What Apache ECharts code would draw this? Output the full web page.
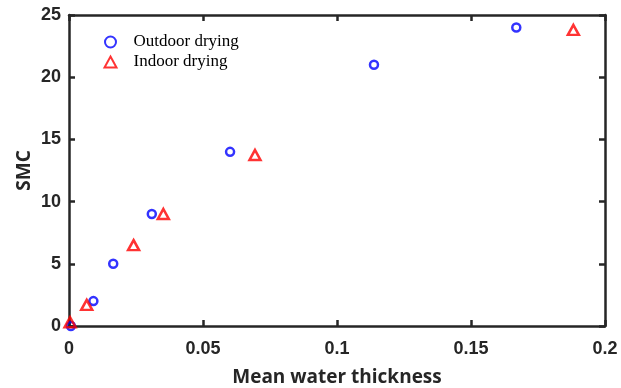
<!DOCTYPE html>
<html>
<head>
<meta charset="utf-8">
<script src="https://cdn.jsdelivr.net/npm/echarts@6/dist/echarts.min.js"></script>
<style>
  html, body { margin: 0; padding: 0; background: #fff; }
  #main { width: 621px; height: 388px; }
</style>
</head>
<body>
<div id="main"></div>
<script>
// 数据
var outdoorX = [0.0007, 0.0091, 0.0165, 0.0309, 0.0601, 0.1138, 0.1669];
var outdoorY = [0, 2.0, 5.0, 9.0, 14.0, 21.0, 24.0];
var indoorX = [0.0004, 0.0066, 0.0241, 0.0352, 0.0694, 0.1882];
var indoorY = [0.3, 1.7, 6.5, 9.0, 13.75, 23.8];
var seriesNames = ['Outdoor drying', 'Indoor drying'];

function pairs(xs, ys) {
    var out = [];
    for (var i = 0; i < xs.length; i++) {
        out.push([xs[i], ys[i]]);
    }
    return out;
}

var axisColor = '#262626';
var tickFont = { fontFamily: 'Liberation Sans', fontWeight: 'bold', fontSize: 18, color: axisColor };
var lineStyle = { color: axisColor, width: 2.5 };
var nameFont = { fontFamily: 'Open Sans', fontWeight: 'bold', fontSize: 19, color: axisColor };

var myChart = echarts.init(document.getElementById('main'));
myChart.setOption({
    animation: false,
    grid: { left: 69, right: 16, top: 15, bottom: 62, containLabel: false, outerBoundsMode: 'none' },
    legend: {
        orient: 'vertical',
        left: 97,
        top: 27,
        itemWidth: 12,
        itemHeight: 11,
        itemGap: 0,
        data: [
            { name: seriesNames[0], icon: 'circle' },
            { name: seriesNames[1], icon: 'triangle' }
        ],
        textStyle: { fontFamily: 'Liberation Serif', fontSize: 17, lineHeight: 20, color: '#000', padding: [0, 0, 0, 12] }
    },
    xAxis: [{
        type: 'value',
        min: 0, max: 0.2, interval: 0.05,
        name: 'Mean water thickness',
        nameLocation: 'middle',
        nameGap: 42,
        nameMoveOverlap: false,
        nameTextStyle: nameFont,
        axisLine: { onZero: false, lineStyle: lineStyle },
        axisTick: { inside: true, length: 6, lineStyle: lineStyle },
        axisLabel: Object.assign({ margin: 14 }, tickFont),
        splitLine: { show: false }
    }, {
        type: 'value', position: 'top',
        min: 0, max: 0.2, interval: 0.05,
        axisLine: { show: true, onZero: false, lineStyle: lineStyle },
        axisTick: { show: true, inside: true, length: 6, lineStyle: lineStyle },
        axisLabel: { show: false },
        splitLine: { show: false }
    }],
    yAxis: [{
        type: 'value',
        min: 0, max: 25, interval: 5,
        axisLine: { show: true, onZero: false, lineStyle: lineStyle },
        axisTick: { show: true, inside: true, length: 6, lineStyle: lineStyle },
        axisLabel: Object.assign({ margin: 8 }, tickFont),
        splitLine: { show: false }
    }, {
        type: 'value', position: 'right',
        min: 0, max: 25, interval: 5,
        axisLine: { show: true, onZero: false, lineStyle: lineStyle },
        axisTick: { show: true, inside: true, length: 6, lineStyle: lineStyle },
        axisLabel: { show: false },
        splitLine: { show: false }
    }, {
        // name-only axis so the title sits at a fixed gap from the frame
        type: 'value', position: 'left',
        min: 0, max: 25, interval: 5,
        name: 'SMC',
        nameLocation: 'middle',
        nameGap: 35,
        nameTextStyle: nameFont,
        axisLine: { show: false, onZero: false },
        axisTick: { show: false },
        axisLabel: { show: false },
        splitLine: { show: false }
    }],
    series: [{
        name: seriesNames[0],
        type: 'scatter',
        symbol: 'circle',
        symbolSize: 8,
        itemStyle: { color: 'none', borderColor: '#0000ff', borderWidth: 2.5 },
        data: pairs(outdoorX, outdoorY)
    }, {
        name: seriesNames[1],
        type: 'scatter',
        symbol: 'triangle',
        symbolSize: [11, 10],
        itemStyle: { color: 'none', borderColor: '#ff0000', borderWidth: 2.5 },
        data: pairs(indoorX, indoorY)
    }]
});
</script>
</body>
</html>
